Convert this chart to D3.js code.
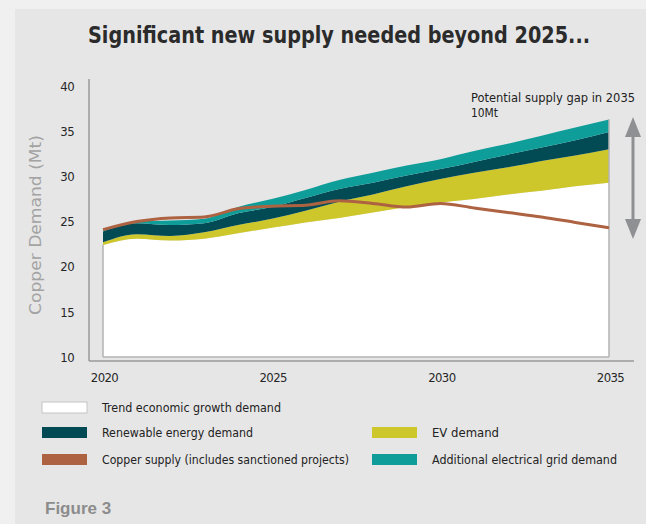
<!DOCTYPE html>
<html>
<head>
<meta charset="utf-8">
<script src="https://cdn.jsdelivr.net/npm/d3@7"></script>
<style>
  html, body { margin: 0; padding: 0; background: #f0f0f0; }
  svg { display: block; }
</style>
</head>
<body>
<svg id="chart" width="646" height="524"></svg>
<script>
// ---------- data ----------
const years = [2020, 2021, 2022, 2023, 2024, 2025, 2026, 2027, 2028, 2029, 2030, 2031, 2032, 2033, 2034, 2035];
const trendDemand     = [22.4, 23.1, 22.9, 23.1, 23.7, 24.3, 24.9, 25.4, 26.0, 26.6, 27.1, 27.5, 28.0, 28.4, 28.9, 29.3];
const evDemand        = [0.3, 0.5, 0.5, 0.7, 0.9, 1.0, 1.3, 1.8, 2.0, 2.3, 2.6, 2.9, 3.0, 3.3, 3.4, 3.7];
const renewableDemand = [1.2, 1.2, 1.2, 1.0, 1.3, 1.3, 1.4, 1.4, 1.3, 1.2, 1.1, 1.2, 1.4, 1.5, 1.7, 1.9];
const gridDemand      = [0.1, 0.2, 0.5, 0.5, 0.7, 0.9, 0.9, 1.0, 1.1, 1.1, 1.1, 1.2, 1.2, 1.3, 1.4, 1.4];
const copperSupply    = [24.1, 25.0, 25.4, 25.5, 26.4, 26.7, 26.8, 27.3, 27.0, 26.6, 27.0, 26.5, 26.0, 25.5, 24.9, 24.3];
const xTicks = [2020, 2025, 2030, 2035];
const yTicks = [10, 15, 20, 25, 30, 35, 40];
const seriesKeys = ["trend", "ev", "renewable", "grid"];
const seriesColors = { trend: "#ffffff", ev: "#cec72b", renewable: "#024b55", grid: "#0f9d99" };
const supplyColor = "#ad6241";
const legendItems = [
  { label: "Trend economic growth demand", color: "#ffffff", col: 0, row: 0, w: 179 },
  { label: "Renewable energy demand", color: "#024b55", col: 0, row: 1, w: 151 },
  { label: "Copper supply (includes sanctioned projects)", color: "#ad6241", col: 0, row: 2, w: 247 },
  { label: "EV demand", color: "#cec72b", col: 1, row: 1, w: 67 },
  { label: "Additional electrical grid demand", color: "#0f9d99", col: 1, row: 2, w: 185 }
];
const titleText = "Significant new supply needed beyond 2025...";
const yTitle = "Copper Demand (Mt)";
const noteLines = ["Potential supply gap in 2035", "10Mt"];

const condensed = "'DejaVu Sans Condensed', 'DejaVu Sans', sans-serif";

// ---------- build ----------
const table = years.map((yr, i) => ({
  year: yr, trend: trendDemand[i], ev: evDemand[i], renewable: renewableDemand[i], grid: gridDemand[i], supply: copperSupply[i]
}));

const svg = d3.select("#chart");
svg.append("rect").attr("x", 0).attr("y", 0).attr("width", 646).attr("height", 524).attr("fill", "#f0f0f0");
svg.append("rect").attr("x", 15).attr("y", 9).attr("width", 631).attr("height", 515).attr("fill", "#e6e6e6");

svg.append("text").attr("x", 339).attr("y", 43).attr("text-anchor", "middle")
  .style("font-family", condensed)
  .attr("font-size", 23).attr("font-weight", "bold").attr("fill", "#2b2b2b")
  .attr("textLength", 502).attr("lengthAdjust", "spacingAndGlyphs").text(titleText);

const x = d3.scaleLinear().domain([2020, 2035]).range([103, 609]);
const y = d3.scaleLinear().domain([10, 40]).range([357, 86]);

const stacked = d3.stack().keys(seriesKeys)(table);

svg.append("g").selectAll("path").data(stacked).join("path")
  .attr("fill", d => seriesColors[d.key])
  .attr("d", s => d3.area()
      .x(d => x(d.data.year))
      .y0(d => s.key === "trend" ? y(10) : y(d[0]))
      .y1(d => y(d[1]))
      .curve(d3.curveMonotoneX)(s));

// borders of plot area
const last = stacked[stacked.length - 1];
svg.append("line").attr("x1", x(2020)).attr("x2", x(2020))
  .attr("y1", y(trendDemand[0])).attr("y2", y(10)).attr("stroke", "#b3b3b3").attr("stroke-width", 1.5);
svg.append("line").attr("x1", x(2035)).attr("x2", x(2035))
  .attr("y1", y(last[last.length - 1][1])).attr("y2", y(10)).attr("stroke", "#b3b3b3").attr("stroke-width", 1.5);
svg.append("line").attr("x1", x(2020)).attr("x2", x(2035))
  .attr("y1", y(10)).attr("y2", y(10)).attr("stroke", "#b3b3b3").attr("stroke-width", 1.5);

// supply line
svg.append("path").datum(table)
  .attr("fill", "none").attr("stroke", supplyColor).attr("stroke-width", 3)
  .attr("d", d3.line().x(d => x(d.year)).y(d => y(d.supply)).curve(d3.curveMonotoneX));

// axes
svg.append("line").attr("x1", 89).attr("x2", 89).attr("y1", 79).attr("y2", 361).attr("stroke", "#9a9a9a").attr("stroke-width", 1.5);
svg.append("line").attr("x1", 89).attr("x2", 634).attr("y1", 361).attr("y2", 361).attr("stroke", "#9a9a9a").attr("stroke-width", 1.5);

const yAxis = svg.append("g").attr("transform", "translate(74,0)")
  .call(d3.axisLeft(y).tickValues(yTicks).tickSize(0).tickPadding(0));
yAxis.select(".domain").remove();
yAxis.selectAll("text").style("font-family", condensed).style("font-size", "13px")
  .attr("fill", "#262626").attr("letter-spacing", -0.6);

const xAxis = svg.append("g").attr("transform", "translate(1,373)")
  .call(d3.axisBottom(x).tickValues(xTicks).tickFormat(d3.format("d")).tickSize(0).tickPadding(0));
xAxis.select(".domain").remove();
xAxis.selectAll("text").style("font-family", condensed).style("font-size", "13px")
  .attr("fill", "#262626").attr("letter-spacing", -0.6);

// y title
svg.append("text").attr("transform", "translate(41,225) rotate(-90)").attr("text-anchor", "middle")
  .style("font-family", condensed).attr("font-size", 16).attr("fill", "#a3a3a3")
  .attr("textLength", 180).attr("lengthAdjust", "spacingAndGlyphs").text(yTitle);

// annotation
svg.append("text").attr("x", 471).attr("y", 102).style("font-family", condensed).attr("font-size", 12).attr("fill", "#222")
  .attr("textLength", 164).attr("lengthAdjust", "spacingAndGlyphs").text(noteLines[0]);
svg.append("text").attr("x", 471).attr("y", 117).style("font-family", condensed).attr("font-size", 12).attr("fill", "#222")
  .attr("textLength", 27).attr("lengthAdjust", "spacingAndGlyphs").text(noteLines[1]);

const arrowColor = "#8e9093";
svg.append("line").attr("x1", 633).attr("x2", 633).attr("y1", 130).attr("y2", 226)
  .attr("stroke", arrowColor).attr("stroke-width", 3);
svg.append("path").attr("d", "M633,117 L641,137 L625,137 Z").attr("fill", arrowColor);
svg.append("path").attr("d", "M633,239 L641,219 L625,219 Z").attr("fill", arrowColor);

// legend
const colX = [42, 372];
const rowY = [402, 427, 454];
const lg = svg.append("g").selectAll("g").data(legendItems).join("g")
  .attr("transform", d => `translate(${colX[d.col]},${rowY[d.row]})`);
lg.append("rect").attr("x", 0).attr("y", 0).attr("width", 45).attr("height", 11)
  .attr("fill", d => d.color).attr("stroke", d => d.color === "#ffffff" ? "#c4c4c4" : "none").attr("stroke-width", 1);
lg.append("text").attr("x", 60).attr("y", 10).style("font-family", condensed).attr("font-size", 13).attr("fill", "#222")
  .attr("textLength", d => d.w).attr("lengthAdjust", "spacingAndGlyphs").text(d => d.label);

// figure label
svg.append("text").attr("x", 45).attr("y", 514).attr("font-size", 17).attr("font-weight", "bold")
  .style("font-family", "'Liberation Sans', Arial, sans-serif").attr("fill", "#8c8c8c").text("Figure 3");
</script>
</body>
</html>
